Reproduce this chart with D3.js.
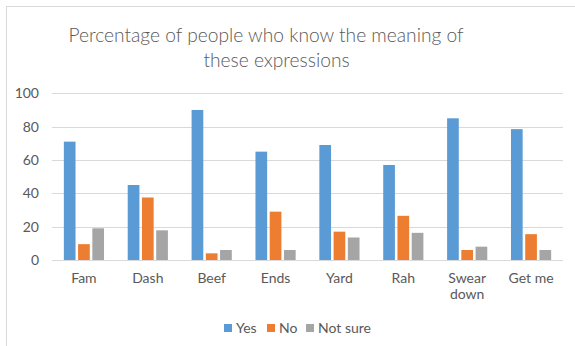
<!DOCTYPE html>
<html><head><meta charset="utf-8">
<script src="https://cdn.jsdelivr.net/npm/d3@7"></script>
<style>body{margin:0;background:#fff}svg{display:block}</style>
</head><body>
<script>
const categories = ["Fam","Dash","Beef","Ends","Yard","Rah","Swear down","Get me"];
const categoryLines = [["Fam"],["Dash"],["Beef"],["Ends"],["Yard"],["Rah"],["Swear","down"],["Get me"]];
const seriesNames = ["Yes","No","Not sure"];
const yesValues = [71, 45, 90, 65, 69, 57, 85, 78.5];
const noValues = [9.5, 37.5, 4, 29, 17, 26.5, 6, 15.5];
const notSureValues = [19, 17.8, 6, 6, 13.5, 16.3, 8, 6];
const yTicks = [0, 20, 40, 60, 80, 100];
const colors = ["#5b9bd5", "#ed7d31", "#a5a5a5"];

const W = 575, H = 346;
const svg = d3.select("body").append("svg").attr("width", W).attr("height", H);
svg.append("rect").attr("x", 6.5).attr("y", 6.5).attr("width", W + 10).attr("height", H + 10)
  .attr("fill", "#fff").attr("stroke", "#d9d9d9").attr("stroke-width", 1);

const font = "Lato, 'Open Sans', sans-serif";
const title = svg.append("text").attr("text-anchor", "middle")
  .attr("fill", "#595959").attr("font-family", font).attr("font-size", 19.2).attr("font-weight", 300);
title.append("tspan").attr("x", 266).attr("y", 42).text("Percentage of people who know the meaning of");
title.append("tspan").attr("x", 276.5).attr("y", 67).text("these expressions");

const x0 = d3.scaleBand().domain(categories).range([52, 563]);
const y = d3.scaleLinear().domain([0, 100]).range([260, 93.3]);
const series = [yesValues, noValues, notSureValues];

const g = svg.append("g");
g.selectAll("line.grid").data(yTicks).join("line")
  .attr("x1", 52).attr("x2", 563)
  .attr("y1", d => Math.round(y(d)) + 0.5).attr("y2", d => Math.round(y(d)) + 0.5)
  .attr("stroke", "#d9d9d9").attr("stroke-width", 1);

g.selectAll("text.ytick").data(yTicks).join("text")
  .attr("x", 39).attr("y", d => y(d)).attr("dy", "0.35em").attr("text-anchor", "end")
  .attr("fill", "#595959").attr("font-family", font).attr("font-size", 14).text(d => d);

const bw = x0.bandwidth() * 0.183;
const step = x0.bandwidth() * 0.223;
series.forEach((vals, si) => {
  g.selectAll("rect.s" + si).data(categories).join("rect")
    .attr("x", (c) => x0(c) + x0.bandwidth() / 2 - bw / 2 + (si - 1) * step)
    .attr("width", bw)
    .attr("y", (c, i) => y(vals[i]))
    .attr("height", (c, i) => y(0) - y(vals[i]))
    .attr("fill", colors[si]);
});

categories.forEach((c, ci) => {
  const t = g.append("text").attr("text-anchor", "middle").attr("fill", "#595959")
    .attr("font-family", font).attr("font-size", 14);
  categoryLines[ci].forEach((w, i) => {
    t.append("tspan").attr("x", x0(c) + x0.bandwidth() / 2).attr("y", 283 + i * 16).text(w);
  });
});

// legend
const legend = svg.append("g");
const lx = [224, 267, 306];
seriesNames.forEach((n, i) => {
  legend.append("rect").attr("x", lx[i]).attr("y", 324).attr("width", 8).attr("height", 8).attr("fill", colors[i]);
  legend.append("text").attr("x", lx[i] + 12).attr("y", 328).attr("dy", "0.35em")
    .attr("fill", "#595959").attr("font-family", font).attr("font-size", 14).text(n);
});
</script>
</body></html>
